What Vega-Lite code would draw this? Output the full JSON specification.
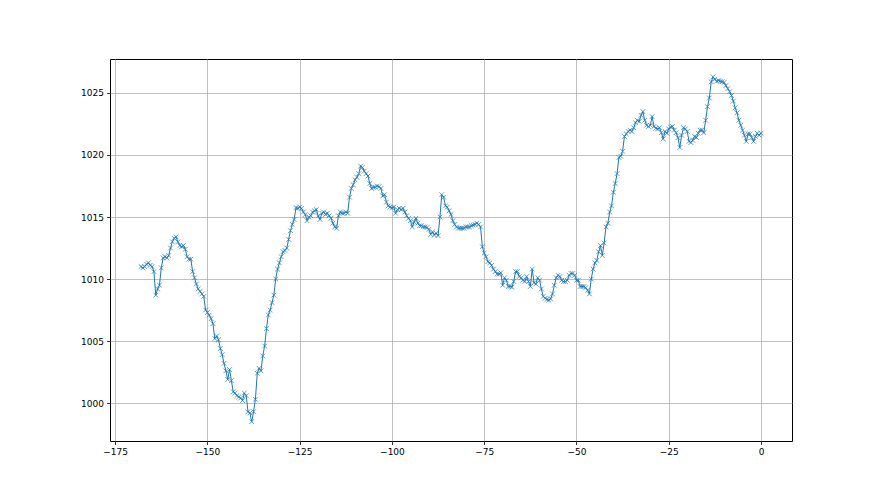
{
"$schema": "https://vega.github.io/schema/vega-lite/v6.json",
"width": 682, "height": 382,
"autosize": {"type": "none"},
"padding": {"left": 110, "top": 59, "right": 88, "bottom": 54},
"background": "white",
"config": {"view": {"stroke": "black", "strokeWidth": 1},
 "axis": {"labelFont": "DejaVu Sans", "labelFontSize": 9, "labelColor": "black", "domain": false, "tickColor": "black", "tickSize": 3.5, "tickWidth": 0.8, "labelPadding": 3, "gridColor": "#b0b0b0", "gridWidth": 0.8, "title": null}},
"data": {"values": [
{"t":-168,"p":1011.0},{"t":-167.5,"p":1010.9},{"t":-167,"p":1011.0},{"t":-166.5,"p":1011.2},{"t":-166,"p":1011.3},{"t":-165.5,"p":1011.1},{"t":-165,"p":1011.0},{"t":-164.5,"p":1010.6},{"t":-164,"p":1008.7},{"t":-163.5,"p":1009.2},{"t":-163,"p":1009.5},{"t":-162.5,"p":1010.9},{"t":-162,"p":1011.7},{"t":-161.5,"p":1011.8},{"t":-161,"p":1011.7},{"t":-160.5,"p":1011.9},{"t":-160,"p":1012.5},{"t":-159.5,"p":1013.0},{"t":-159,"p":1013.3},{"t":-158.5,"p":1013.4},{"t":-158,"p":1013.0},{"t":-157.5,"p":1012.7},{"t":-157,"p":1012.6},{"t":-156.5,"p":1012.7},{"t":-156,"p":1012.4},{"t":-155.5,"p":1011.8},{"t":-155,"p":1011.6},{"t":-154.5,"p":1011.6},{"t":-154,"p":1010.6},{"t":-153.5,"p":1010.1},{"t":-153,"p":1009.6},{"t":-152.5,"p":1009.2},{"t":-152,"p":1009.0},{"t":-151.5,"p":1008.8},{"t":-151,"p":1008.6},{"t":-150.5,"p":1007.5},{"t":-150,"p":1007.3},{"t":-149.5,"p":1007.1},{"t":-149,"p":1006.8},{"t":-148.5,"p":1006.4},{"t":-148,"p":1005.2},{"t":-147.5,"p":1005.4},{"t":-147,"p":1005.1},{"t":-146.5,"p":1004.4},{"t":-146,"p":1003.9},{"t":-145.5,"p":1003.2},{"t":-145,"p":1002.6},{"t":-144.5,"p":1001.9},{"t":-144,"p":1002.7},{"t":-143.5,"p":1001.8},{"t":-143,"p":1000.9},{"t":-142.5,"p":1000.8},{"t":-142,"p":1000.6},{"t":-141.5,"p":1000.5},{"t":-141,"p":1000.4},{"t":-140.5,"p":1000.2},{"t":-140,"p":1000.8},
{"t":-139.5,"p":1000.6},{"t":-139,"p":999.3},{"t":-138.5,"p":999.2},{"t":-138,"p":998.5},{"t":-137.5,"p":999.3},{"t":-137,"p":1000.3},{"t":-136.5,"p":1002.4},{"t":-136,"p":1002.8},{"t":-135.5,"p":1002.6},{"t":-135,"p":1003.8},{"t":-134.5,"p":1004.6},{"t":-134,"p":1006.0},{"t":-133.5,"p":1007.1},{"t":-133,"p":1007.5},{"t":-132.5,"p":1008.1},{"t":-132,"p":1008.7},{"t":-131.5,"p":1010.0},{"t":-131,"p":1010.8},{"t":-130.5,"p":1011.3},{"t":-130,"p":1011.8},{"t":-129.5,"p":1012.2},{"t":-129,"p":1012.3},{"t":-128.5,"p":1012.5},{"t":-128,"p":1013.2},{"t":-127.5,"p":1013.9},{"t":-127,"p":1014.4},{"t":-126.5,"p":1014.8},{"t":-126,"p":1015.75},{"t":-125.5,"p":1015.7},{"t":-125,"p":1015.8},{"t":-124.5,"p":1015.7},{"t":-124,"p":1015.4},{"t":-123.5,"p":1015.2},{"t":-123,"p":1014.7},{"t":-122.5,"p":1015.0},{"t":-122,"p":1015.1},{"t":-121.5,"p":1015.4},{"t":-121,"p":1015.5},{"t":-120.5,"p":1015.6},{"t":-120,"p":1015.1},{"t":-119.5,"p":1014.8},{"t":-119,"p":1015.3},{"t":-118.5,"p":1015.4},{"t":-118,"p":1015.2},{"t":-117.5,"p":1015.3},{"t":-117,"p":1015.1},{"t":-116.5,"p":1014.9},{"t":-116,"p":1014.5},{"t":-115.5,"p":1014.2},{"t":-115,"p":1014.1},{"t":-114.5,"p":1015.1},{"t":-114,"p":1015.4},{"t":-113.5,"p":1015.3},{"t":-113,"p":1015.3},{"t":-112.5,"p":1015.4},{"t":-112,"p":1015.3},{"t":-111.5,"p":1016.6},
{"t":-111,"p":1017.3},{"t":-110.5,"p":1017.6},{"t":-110,"p":1018.0},{"t":-109.5,"p":1018.2},{"t":-109,"p":1018.5},{"t":-108.5,"p":1019.1},{"t":-108,"p":1019.0},{"t":-107.5,"p":1018.7},{"t":-107,"p":1018.5},{"t":-106.5,"p":1018.3},{"t":-106,"p":1017.7},{"t":-105.5,"p":1017.3},{"t":-105,"p":1017.4},{"t":-104.5,"p":1017.4},{"t":-104,"p":1017.5},{"t":-103.5,"p":1017.45},{"t":-103,"p":1017.3},{"t":-102.5,"p":1016.7},{"t":-102,"p":1016.8},{"t":-101.5,"p":1016.2},{"t":-101,"p":1015.9},{"t":-100.5,"p":1015.8},{"t":-100,"p":1015.75},{"t":-99.5,"p":1015.8},{"t":-99,"p":1015.3},{"t":-98.5,"p":1015.6},{"t":-98,"p":1015.7},{"t":-97.5,"p":1015.6},{"t":-97,"p":1015.7},{"t":-96.5,"p":1015.4},{"t":-96,"p":1015.1},{"t":-95.5,"p":1014.9},{"t":-95,"p":1014.7},{"t":-94.5,"p":1014.2},{"t":-94,"p":1014.6},{"t":-93.5,"p":1014.9},{"t":-93,"p":1014.5},{"t":-92.5,"p":1014.3},{"t":-92,"p":1014.3},{"t":-91.5,"p":1014.2},{"t":-91,"p":1014.2},{"t":-90.5,"p":1014.15},{"t":-90,"p":1014.0},{"t":-89.5,"p":1013.6},{"t":-89,"p":1013.8},{"t":-88.5,"p":1013.55},{"t":-88,"p":1013.7},{"t":-87.5,"p":1013.5},{"t":-87,"p":1015.0},{"t":-86.5,"p":1016.8},{"t":-86,"p":1016.6},{"t":-85.5,"p":1015.9},{"t":-85,"p":1015.8},{"t":-84.5,"p":1015.5},{"t":-84,"p":1015.2},{"t":-83.5,"p":1014.7},{"t":-83,"p":1014.4},{"t":-82.5,"p":1014.2},{"t":-82,"p":1014.1},{"t":-81.5,"p":1014.1},{"t":-81,"p":1014.1},{"t":-80.5,"p":1014.1},
{"t":-80,"p":1014.2},{"t":-79.5,"p":1014.2},{"t":-79,"p":1014.2},{"t":-78.5,"p":1014.3},{"t":-78,"p":1014.35},{"t":-77.5,"p":1014.4},{"t":-77,"p":1014.5},{"t":-76.5,"p":1014.4},{"t":-76,"p":1014.2},{"t":-75.5,"p":1012.6},{"t":-75,"p":1012.1},{"t":-74.5,"p":1011.8},{"t":-74,"p":1011.4},{"t":-73.5,"p":1011.3},{"t":-73,"p":1011.1},{"t":-72.5,"p":1010.8},{"t":-72,"p":1010.6},{"t":-71.5,"p":1010.4},{"t":-71,"p":1010.4},{"t":-70.5,"p":1010.5},{"t":-70,"p":1009.5},{"t":-69.5,"p":1010.1},{"t":-69,"p":1009.9},{"t":-68.5,"p":1009.4},{"t":-68,"p":1009.4},{"t":-67.5,"p":1009.35},{"t":-67,"p":1009.8},{"t":-66.5,"p":1010.6},{"t":-66,"p":1010.6},{"t":-65.5,"p":1010.2},{"t":-65,"p":1010.1},{"t":-64.5,"p":1009.9},{"t":-64,"p":1009.8},{"t":-63.5,"p":1010.2},{"t":-63,"p":1009.8},{"t":-62.5,"p":1009.4},{"t":-62,"p":1010.8},{"t":-61.5,"p":1009.7},{"t":-61,"p":1009.6},{"t":-60.5,"p":1010.1},{"t":-60,"p":1009.9},{"t":-59.5,"p":1009.2},{"t":-59,"p":1008.6},{"t":-58.5,"p":1008.45},{"t":-58,"p":1008.35},{"t":-57.5,"p":1008.3},{"t":-57,"p":1008.4},{"t":-56.5,"p":1008.8},{"t":-56,"p":1009.5},{"t":-55.5,"p":1010.1},{"t":-55,"p":1010.3},{"t":-54.5,"p":1010.2},{"t":-54,"p":1009.9},{"t":-53.5,"p":1009.8},{"t":-53,"p":1009.8},{"t":-52.5,"p":1009.9},{"t":-52,"p":1010.3},{"t":-51.5,"p":1010.45},{"t":-51,"p":1010.45},{"t":-50.5,"p":1010.3},{"t":-50,"p":1009.9},{"t":-49.5,"p":1009.9},{"t":-49,"p":1009.4},
{"t":-48.5,"p":1009.4},{"t":-48,"p":1009.4},{"t":-47.5,"p":1009.3},{"t":-47,"p":1009.1},{"t":-46.5,"p":1008.8},{"t":-46,"p":1010.0},{"t":-45.5,"p":1010.8},{"t":-45,"p":1011.3},{"t":-44.5,"p":1011.5},{"t":-44,"p":1012.2},{"t":-43.5,"p":1012.7},{"t":-43,"p":1011.9},{"t":-42.5,"p":1012.9},{"t":-42,"p":1014.2},{"t":-41.5,"p":1014.5},{"t":-41,"p":1015.4},{"t":-40.5,"p":1015.9},{"t":-40,"p":1017.0},{"t":-39.5,"p":1017.7},{"t":-39,"p":1018.5},{"t":-38.5,"p":1019.8},{"t":-38,"p":1019.9},{"t":-37.5,"p":1020.3},{"t":-37,"p":1021.5},{"t":-36.5,"p":1021.7},{"t":-36,"p":1021.9},{"t":-35.5,"p":1022.0},{"t":-35,"p":1021.9},{"t":-34.5,"p":1022.2},{"t":-34,"p":1022.6},{"t":-33.5,"p":1022.8},{"t":-33,"p":1022.7},{"t":-32.5,"p":1023.2},{"t":-32,"p":1023.5},{"t":-31.5,"p":1022.8},{"t":-31,"p":1022.4},{"t":-30.5,"p":1022.3},{"t":-30,"p":1022.4},{"t":-29.5,"p":1023.1},{"t":-29,"p":1022.3},{"t":-28.5,"p":1022.15},{"t":-28,"p":1022.1},{"t":-27.5,"p":1022.2},{"t":-27,"p":1021.8},{"t":-26.5,"p":1021.3},{"t":-26,"p":1021.9},{"t":-25.5,"p":1021.75},{"t":-25,"p":1022.1},{"t":-24.5,"p":1022.25},{"t":-24,"p":1022.3},{"t":-23.5,"p":1022.0},{"t":-23,"p":1021.8},{"t":-22.5,"p":1021.4},{"t":-22,"p":1020.6},{"t":-21.5,"p":1021.6},{"t":-21,"p":1022.2},
{"t":-20.5,"p":1022.1},{"t":-20,"p":1021.9},{"t":-19.5,"p":1021.1},{"t":-19,"p":1021.0},{"t":-18.5,"p":1021.2},{"t":-18,"p":1021.5},{"t":-17.5,"p":1021.4},{"t":-17,"p":1021.75},{"t":-16.5,"p":1022.0},{"t":-16,"p":1022.0},{"t":-15.5,"p":1021.8},{"t":-15,"p":1022.8},{"t":-14.5,"p":1023.9},{"t":-14,"p":1024.6},{"t":-13.5,"p":1025.9},{"t":-13,"p":1026.3},{"t":-12.5,"p":1026.1},{"t":-12,"p":1025.95},{"t":-11.5,"p":1026.0},{"t":-11,"p":1025.95},{"t":-10.5,"p":1025.9},{"t":-10,"p":1025.85},{"t":-9.5,"p":1025.6},{"t":-9,"p":1025.35},{"t":-8.5,"p":1025.1},{"t":-8,"p":1024.8},{"t":-7.5,"p":1024.35},{"t":-7,"p":1023.8},{"t":-6.5,"p":1023.4},{"t":-6,"p":1022.8},{"t":-5.5,"p":1022.4},{"t":-5,"p":1022.0},{"t":-4.5,"p":1021.6},{"t":-4,"p":1021.1},{"t":-3.5,"p":1021.7},{"t":-3,"p":1021.7},{"t":-2.5,"p":1021.4},{"t":-2,"p":1021.1},{"t":-1.5,"p":1021.5},{"t":-1,"p":1021.75},{"t":-0.5,"p":1021.6},{"t":0,"p":1021.75}
]},
"encoding": {
 "x": {"field": "t", "type": "quantitative", "scale": {"domain": [-176.4, 8.4], "nice": false, "zero": false}, "axis": {"values": [-175, -150, -125, -100, -75, -50, -25, 0], "format": "d", "grid": true}},
 "y": {"field": "p", "type": "quantitative", "scale": {"domain": [996.94, 1027.74], "nice": false, "zero": false}, "axis": {"values": [1000, 1005, 1010, 1015, 1020, 1025], "format": "d", "grid": true}}
},
"layer": [
 {"mark": {"type": "line", "color": "#1f77b4", "strokeWidth": 1}},
 {"mark": {"type": "point", "shape": "M-1,-1L1,1M-1,1L1,-1", "filled": false, "color": "#1f77b4", "size": 22, "strokeWidth": 0.8, "opacity": 0.9}}
]
}
